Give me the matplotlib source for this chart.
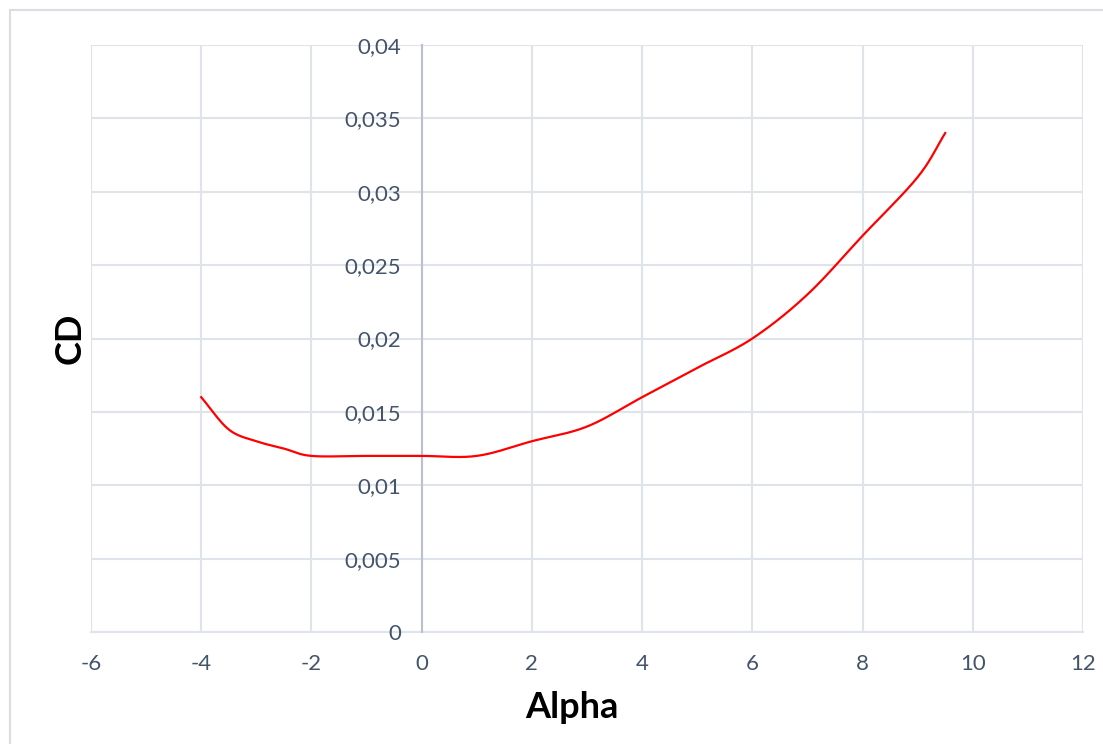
import numpy as np
import matplotlib.pyplot as plt
from matplotlib.lines import Line2D

alpha = [-4, -3.5, -3, -2.5, -2, -1, 0, 1, 2, 3, 4, 5, 6, 7, 8, 9, 9.5]
cd = [0.016, 0.0138, 0.013, 0.0125, 0.012, 0.012, 0.012, 0.012, 0.013,
      0.014, 0.016, 0.018, 0.020, 0.023, 0.027, 0.031, 0.034]

x_ticks = [-6, -4, -2, 0, 2, 4, 6, 8, 10, 12]
y_ticks = [0, 0.005, 0.01, 0.015, 0.02, 0.025, 0.03, 0.035, 0.04]
y_labels = ['0', '0,005', '0,01', '0,015', '0,02', '0,025', '0,03', '0,035', '0,04']

grid_col = '#dfe3ea'
text_col = '#44546a'


def smooth(xs, ys, n=30):
    # catmull-rom through the points, roughly what excel's smoothed line does
    p = np.column_stack([xs, ys]).astype(float)
    p = np.vstack([2 * p[0] - p[1], p, 2 * p[-1] - p[-2]])
    out = []
    t = np.linspace(0, 1, n, endpoint=False)[:, None]
    for i in range(1, len(p) - 2):
        p0, p1, p2, p3 = p[i - 1], p[i], p[i + 1], p[i + 2]
        seg = 0.5 * ((2 * p1) + (-p0 + p2) * t + (2 * p0 - 5 * p1 + 4 * p2 - p3) * t ** 2
                     + (-p0 + 3 * p1 - 3 * p2 + p3) * t ** 3)
        out.append(seg)
    out.append(p[-2][None, :])
    out = np.vstack(out)
    return out[:, 0], out[:, 1]


plt.rcParams['font.family'] = ['Lato', 'DejaVu Sans']
plt.rcParams['axes.unicode_minus'] = False

fig = plt.figure(figsize=(11.03, 7.44), dpi=100)
ax = fig.add_axes([91 / 1103, 112 / 744, 992 / 1103, 587 / 744])

sx, sy = smooth(alpha, cd)
ax.plot(sx, sy, color='#ff0000', lw=1.6, zorder=3)

ax.set_xlim(-6, 12)
ax.set_ylim(0, 0.04)
ax.set_xticks(x_ticks)
ax.set_yticks(y_ticks)
ax.set_yticklabels(y_labels)
ax.grid(True, color=grid_col, lw=1.5)
ax.set_axisbelow(True)

for s in ['top', 'right']:
    ax.spines[s].set_visible(False)
ax.spines['left'].set_position(('data', 0))
ax.spines['left'].set_color('#b9c1cf')
ax.spines['left'].set_linewidth(1.5)
ax.spines['left'].set_zorder(2)
ax.spines['bottom'].set_color(grid_col)
ax.spines['bottom'].set_linewidth(1.5)
ax.spines['bottom'].set_zorder(0.5)

ax.tick_params(axis='both', length=0, labelsize=16, labelcolor=text_col)
ax.tick_params(axis='y', pad=15)
ax.tick_params(axis='x', pad=16)

ax.set_xlabel('Alpha', fontsize=26, fontweight='bold', va='center')
ax.xaxis.set_label_coords(0.485, -0.129)
ax.set_ylabel('CD', fontsize=26, fontweight='bold', va='center')
ax.yaxis.set_label_coords(-0.021, 0.501)

# outer chart frame
fig.add_artist(Line2D([10 / 1103, 10 / 1103], [0, 1 - 10 / 744], color='#d9dde5', lw=1.5))
fig.add_artist(Line2D([10 / 1103, 1], [1 - 10 / 744, 1 - 10 / 744], color='#d9dde5', lw=1.5))

fig.savefig('out.png', dpi=100)
